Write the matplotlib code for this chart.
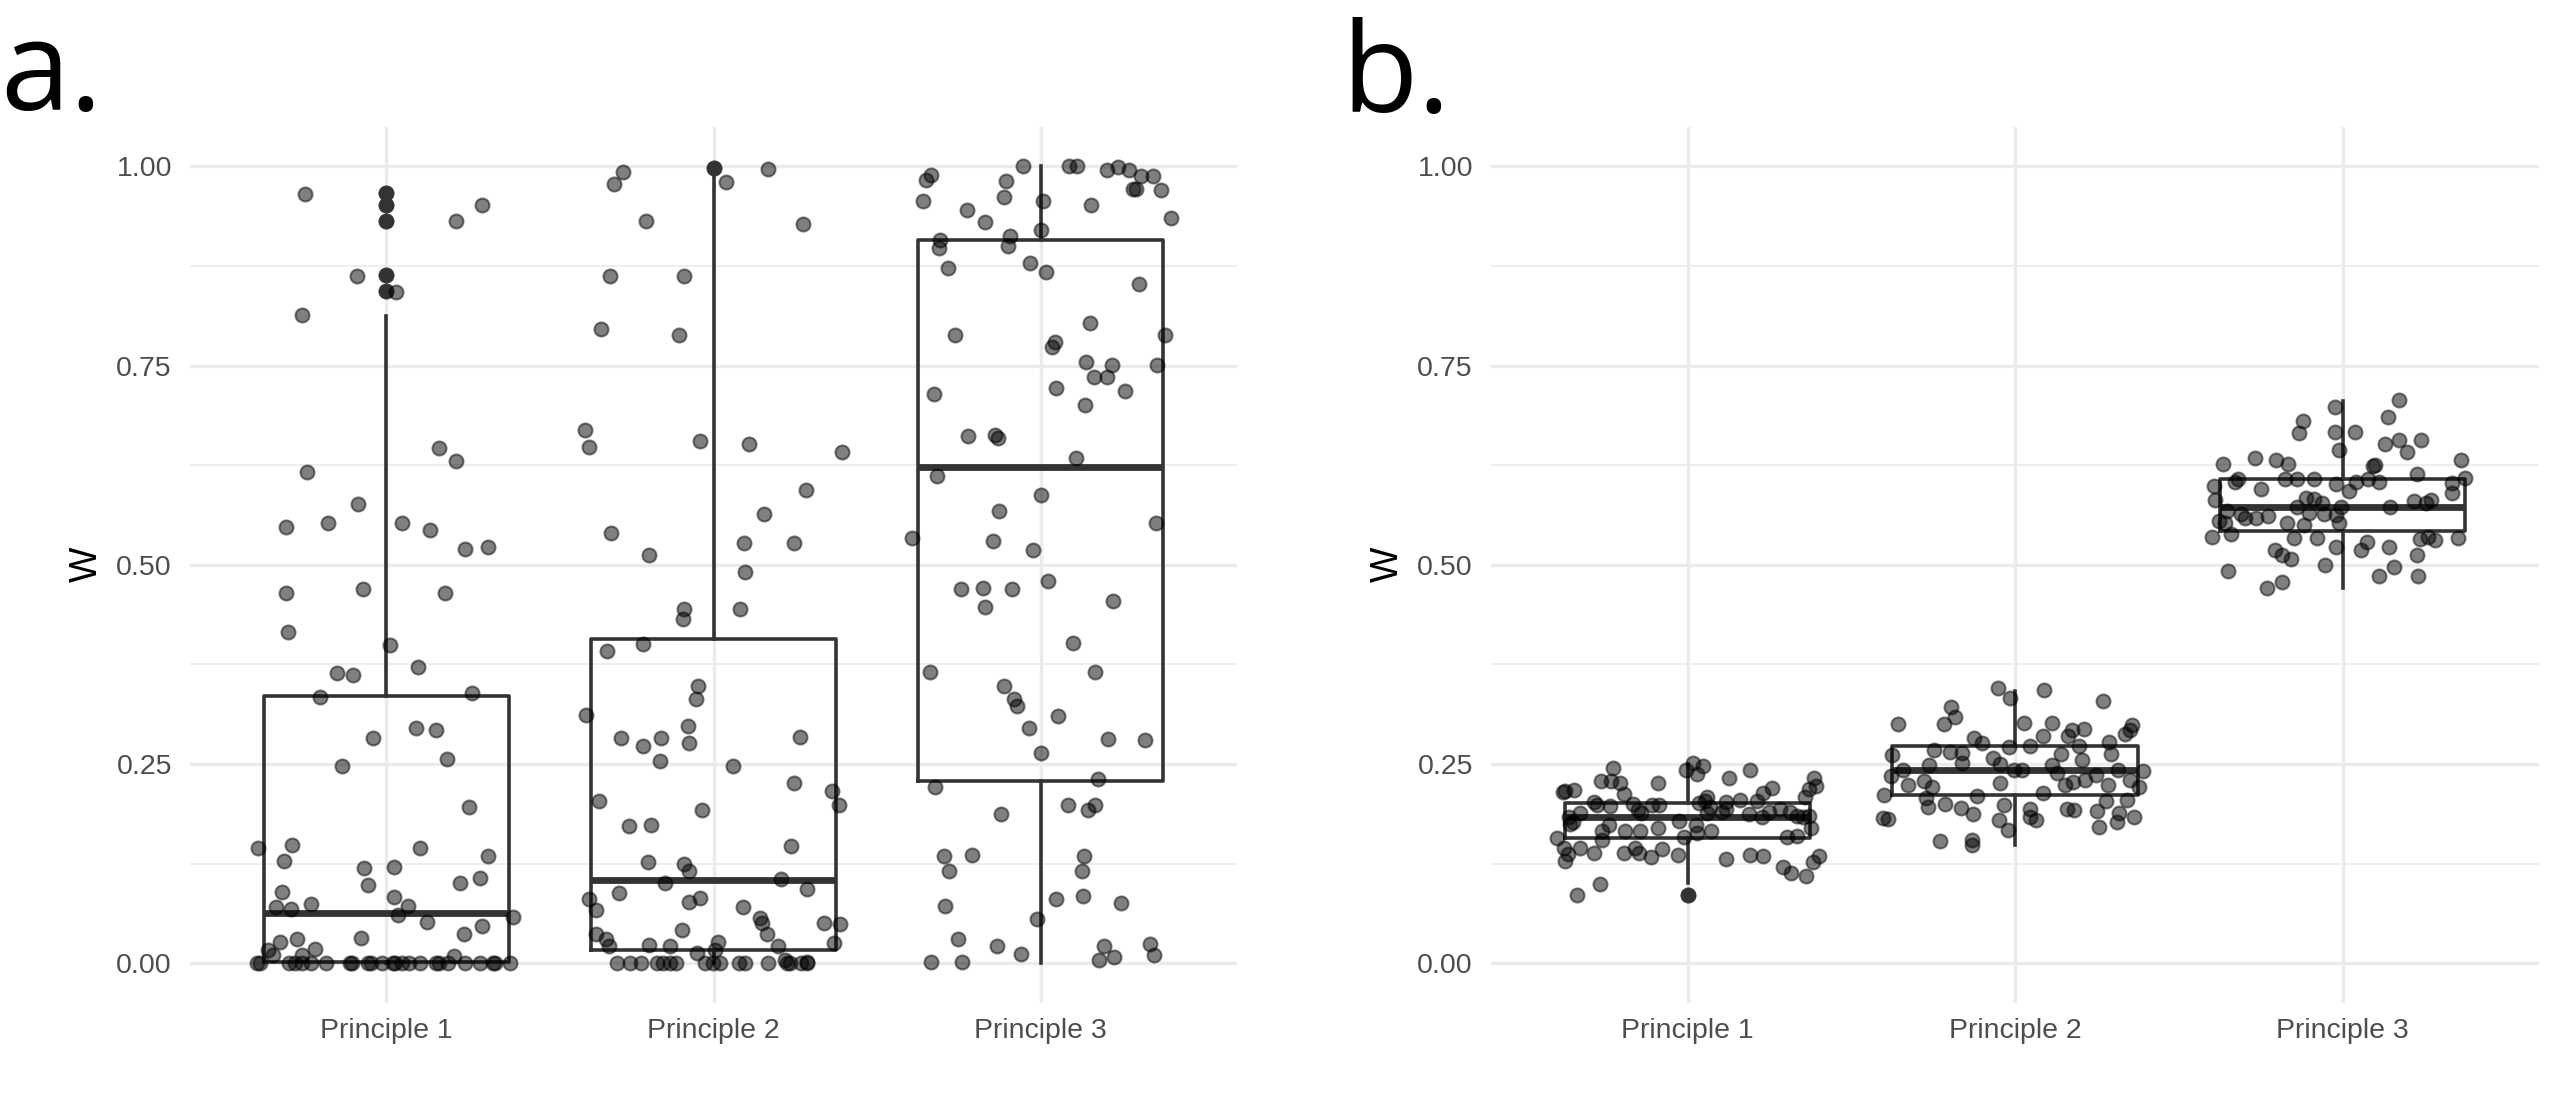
import matplotlib
matplotlib.use("Agg")
import matplotlib.pyplot as plt

plt.rcParams['font.family'] = ['Liberation Sans', 'DejaVu Sans']

categories = ["Principle 1", "Principle 2", "Principle 3"]
yticks = [0.0, 0.25, 0.5, 0.75, 1.0]
ytick_labels = ["0.00", "0.25", "0.50", "0.75", "1.00"]
panel_labels = ["a.", "b."]
y_label = "W"

# ---- Panel a: box statistics ----
a_q1 = [0.001, 0.016, 0.228]
a_med = [0.063, 0.104, 0.623]
a_q3 = [0.335, 0.407, 0.908]
a_whislo = [0.0, 0.0, 0.0]
a_whishi = [0.812, 0.993, 1.0]
a_fliers = [[0.966, 0.951, 0.932, 0.864, 0.843], [0.998], []]

# ---- Panel b: box statistics ----
b_q1 = [0.157, 0.211, 0.542]
b_med = [0.184, 0.242, 0.572]
b_q3 = [0.201, 0.273, 0.608]
b_whislo = [0.100, 0.148, 0.471]
b_whishi = [0.250, 0.342, 0.706]
b_fliers = [[0.085], [], []]

# ---- Panel a: jittered observations (offset, value) ----
a_p1_dx = [-0.249, 0.292, 0.212, -0.090, 0.030, -0.257, -0.242, -0.087, -0.307, -0.177,
           0.047, 0.132, 0.162, 0.214, 0.242, 0.312, -0.307, -0.070, 0.180, -0.299,
           0.010, -0.150, -0.102, 0.097, -0.202, 0.262, -0.040, 0.092, 0.152, -0.135,
           0.185, 0.252, -0.392, -0.287, -0.312, 0.102, 0.312, -0.067, 0.022, -0.055,
           0.224, 0.287, -0.319, 0.022, 0.067, -0.337, -0.292, -0.229, 0.035, 0.125,
           0.387, 0.237, -0.077, -0.324, -0.274, -0.362, -0.217, -0.257, -0.345, 0.207,
           0.291,
           -0.394, -0.386, -0.297, -0.280, -0.258, -0.230, -0.184, -0.110, -0.104, -0.055,
           -0.048, -0.012, 0.021, 0.026, 0.048, 0.070, 0.103, 0.152, 0.161, 0.190,
           0.239, 0.286, 0.327, 0.332, 0.379]
a_p1_y = [0.965, 0.952, 0.932, 0.863, 0.842, 0.813, 0.616, 0.576, 0.548, 0.552,
          0.553, 0.543, 0.647, 0.630, 0.520, 0.522, 0.464, 0.469, 0.465, 0.416,
          0.399, 0.364, 0.362, 0.372, 0.334, 0.339, 0.283, 0.295, 0.292, 0.248,
          0.256, 0.196, 0.145, 0.148, 0.128, 0.145, 0.134, 0.120, 0.121, 0.098,
          0.100, 0.107, 0.089, 0.083, 0.072, 0.070, 0.068, 0.074, 0.061, 0.052,
          0.058, 0.036, 0.032, 0.026, 0.030, 0.016, 0.018, 0.010, 0.010, 0.009,
          0.047,
          0.0, 0.0, 0.0, 0.0, 0.0, 0.0, 0.0, 0.0, 0.0, 0.0,
          0.0, 0.0, 0.0, 0.0, 0.0, 0.0, 0.0, 0.0, 0.0, 0.0,
          0.0, 0.0, 0.0, 0.0, 0.0]

a_p2_dx = [-0.277, -0.304, 0.167, 0.037, -0.207, 0.274, -0.317, -0.090, -0.344, -0.105,
           -0.394, -0.382, -0.040, 0.107, 0.394, 0.284, 0.155, -0.314, 0.092, 0.247,
           -0.197, 0.095, -0.090, -0.092, 0.082, -0.324, -0.214, -0.047, -0.055, -0.389,
           -0.077, -0.282, -0.160, -0.075, -0.214, -0.165, 0.264, 0.060, 0.247, 0.362,
           0.384, -0.349, -0.035, -0.259, -0.192, 0.237, -0.200, -0.090, -0.075, -0.147,
           0.207, 0.287, -0.289, -0.379, -0.359, -0.075, -0.040, 0.090, 0.142, 0.147,
           0.337, 0.387, -0.097, -0.359, -0.329, 0.165, 0.367, 0.015, 0.197, -0.319,
           -0.197, -0.132, -0.050, 0.005, 0.219, 0.287,
           -0.294, -0.256, -0.221, -0.172, -0.153, -0.134, -0.115, -0.025, -0.001, 0.020,
           0.078, 0.097, 0.168, 0.225, 0.235, 0.268, 0.286]
a_p2_y = [0.993, 0.978, 0.997, 0.980, 0.932, 0.928, 0.863, 0.863, 0.796, 0.788,
          0.669, 0.648, 0.655, 0.652, 0.642, 0.594, 0.564, 0.540, 0.527, 0.527,
          0.512, 0.491, 0.445, 0.432, 0.444, 0.392, 0.400, 0.348, 0.332, 0.311,
          0.298, 0.283, 0.282, 0.276, 0.272, 0.254, 0.284, 0.247, 0.226, 0.216,
          0.198, 0.204, 0.192, 0.172, 0.173, 0.147, 0.127, 0.124, 0.116, 0.101,
          0.106, 0.093, 0.088, 0.080, 0.067, 0.077, 0.082, 0.071, 0.057, 0.051,
          0.051, 0.049, 0.041, 0.037, 0.030, 0.036, 0.025, 0.026, 0.021, 0.022,
          0.023, 0.021, 0.013, 0.016, 0.004, 0.002,
          0.0, 0.0, 0.0, 0.0, 0.0, 0.0, 0.0, 0.0, 0.0, 0.0,
          0.0, 0.0, 0.0, 0.0, 0.0, 0.0, 0.0]

a_p3_dx = [-0.055, 0.087, 0.112, 0.202, 0.237, 0.269, 0.307, 0.342, 0.282, 0.292,
           0.369, 0.399, -0.334, -0.352, -0.359, -0.107, -0.112, -0.224, -0.170, 0.007,
           0.155, 0.002, -0.312, -0.307, -0.100, -0.095, -0.282, -0.032, 0.017, 0.299,
           -0.262, 0.152, 0.045, 0.035, 0.379, 0.140, 0.217, 0.162, 0.202, 0.354,
           0.047, 0.257, 0.135, -0.327, -0.222, -0.140, -0.130, 0.107, -0.317, 0.000,
           -0.127, -0.394, 0.352, -0.145, -0.025, 0.022, -0.244, -0.175, -0.087, -0.170,
           0.222, 0.100, -0.339, 0.165, -0.112, -0.082, -0.072, 0.052, -0.035, 0.205,
           0.319, 0.000, -0.324, 0.175, -0.122, 0.085, 0.145, 0.167, -0.297, -0.209,
           -0.279, 0.132, 0.127, 0.130, 0.047, -0.292, 0.245, -0.012, -0.254, -0.132,
           0.195, 0.334, 0.347, -0.060, 0.225, 0.177, -0.334, -0.242]
a_p3_y = [1.000, 1.000, 1.000, 0.995, 0.999, 0.996, 0.988, 0.988, 0.971, 0.971,
          0.970, 0.935, 0.989, 0.983, 0.956, 0.982, 0.962, 0.945, 0.930, 0.956,
          0.951, 0.920, 0.898, 0.908, 0.900, 0.913, 0.873, 0.879, 0.868, 0.852,
          0.788, 0.804, 0.780, 0.773, 0.788, 0.754, 0.751, 0.736, 0.736, 0.751,
          0.722, 0.718, 0.700, 0.714, 0.661, 0.663, 0.659, 0.634, 0.612, 0.588,
          0.567, 0.533, 0.553, 0.530, 0.519, 0.479, 0.470, 0.471, 0.470, 0.447,
          0.455, 0.402, 0.366, 0.365, 0.348, 0.331, 0.323, 0.310, 0.295, 0.281,
          0.280, 0.264, 0.221, 0.231, 0.187, 0.198, 0.192, 0.198, 0.134, 0.136,
          0.116, 0.135, 0.116, 0.084, 0.081, 0.072, 0.075, 0.056, 0.030, 0.021,
          0.022, 0.024, 0.010, 0.011, 0.008, 0.004, 0.002, 0.001]

# ---- Panel b: jittered observations (offset, value) ----
b_p1_dx = [-0.227, -0.263, -0.233, -0.205, -0.091, -0.004, 0.018, 0.046, 0.030, 0.126,
           0.191, -0.373, -0.346, -0.381, -0.195, 0.257, 0.230, 0.211, 0.386, 0.392,
           0.371, 0.358, -0.287, -0.167, -0.109, -0.086, -0.236, -0.277, -0.327, -0.150,
           0.059, 0.054, 0.034, 0.118, 0.159, 0.069, 0.061, 0.104, 0.119, 0.187,
           0.226, 0.249, 0.281, 0.312, 0.334, 0.354, 0.371, -0.363, -0.141, -0.026,
           -0.358, -0.350, -0.241, -0.262, -0.191, -0.145, -0.089, 0.026, 0.028, 0.072,
           -0.012, 0.376, 0.303, 0.334, -0.398, -0.262, -0.378, -0.327, -0.364, -0.374,
           -0.287, -0.195, -0.160, -0.149, -0.111, -0.078, -0.030, 0.118, 0.191, 0.230,
           0.401, 0.384, 0.292, 0.317, 0.363, -0.266, -0.337]
b_p1_y = [0.245, 0.228, 0.228, 0.226, 0.226, 0.243, 0.251, 0.247, 0.238, 0.233,
          0.243, 0.216, 0.217, 0.215, 0.212, 0.220, 0.213, 0.204, 0.233, 0.222,
          0.219, 0.208, 0.202, 0.200, 0.199, 0.198, 0.197, 0.198, 0.189, 0.192,
          0.208, 0.204, 0.201, 0.202, 0.205, 0.196, 0.188, 0.190, 0.194, 0.187,
          0.183, 0.190, 0.193, 0.190, 0.185, 0.184, 0.185, 0.184, 0.188, 0.178,
          0.175, 0.177, 0.173, 0.166, 0.166, 0.166, 0.170, 0.173, 0.163, 0.166,
          0.158, 0.170, 0.158, 0.160, 0.157, 0.154, 0.145, 0.144, 0.137, 0.128,
          0.138, 0.138, 0.145, 0.138, 0.133, 0.143, 0.136, 0.131, 0.136, 0.134,
          0.135, 0.127, 0.121, 0.113, 0.110, 0.099, 0.085]

b_p2_dx = [-0.052, 0.089, -0.015, 0.270, -0.194, -0.184, -0.216, -0.357, 0.027, 0.112,
           0.357, 0.352, 0.174, 0.211, 0.087, -0.124, -0.102, 0.161, 0.288, 0.337,
           -0.246, -0.199, -0.161, -0.017, 0.045, 0.194, 0.141, 0.293, -0.375, -0.067,
           -0.263, -0.161, -0.047, -0.380, -0.343, -0.002, 0.020, 0.112, 0.206, 0.313,
           0.392, 0.248, 0.213, 0.127, -0.278, -0.328, -0.253, -0.045, 0.084, 0.176,
           0.154, 0.283, 0.350, 0.380, -0.400, -0.273, -0.117, 0.342, 0.278, -0.213,
           -0.266, -0.164, -0.035, 0.159, 0.179, 0.251, 0.318, -0.127, 0.045, -0.402,
           -0.387, -0.050, 0.047, 0.065, 0.362, 0.310, 0.258, -0.228, -0.132, -0.132,
           -0.022]
b_p2_y = [0.345, 0.343, 0.333, 0.329, 0.321, 0.309, 0.300, 0.300, 0.302, 0.301,
          0.299, 0.293, 0.292, 0.294, 0.285, 0.283, 0.276, 0.285, 0.278, 0.287,
          0.267, 0.265, 0.264, 0.271, 0.273, 0.273, 0.262, 0.262, 0.261, 0.258,
          0.249, 0.251, 0.250, 0.235, 0.242, 0.242, 0.242, 0.249, 0.255, 0.243,
          0.241, 0.236, 0.230, 0.239, 0.228, 0.223, 0.221, 0.226, 0.213, 0.227,
          0.223, 0.223, 0.230, 0.221, 0.211, 0.207, 0.210, 0.205, 0.204, 0.200,
          0.196, 0.195, 0.198, 0.194, 0.192, 0.191, 0.189, 0.187, 0.193, 0.182,
          0.181, 0.180, 0.184, 0.180, 0.184, 0.177, 0.171, 0.153, 0.154, 0.148,
          0.167]

b_p3_dx = [0.174, -0.022, 0.139, -0.122, -0.134, -0.022, 0.037, 0.171, 0.241, 0.131,
           0.196, -0.012, -0.266, -0.365, -0.203, -0.166, 0.362, 0.099, 0.092, -0.320,
           -0.328, -0.392, -0.248, -0.176, -0.139, -0.087, -0.020, 0.042, 0.079, 0.112,
           0.228, 0.335, 0.375, 0.020, -0.390, -0.112, -0.087, -0.062, 0.218, 0.256,
           0.270, -0.139, -0.005, 0.144, -0.352, -0.298, -0.263, -0.226, -0.169, -0.310,
           -0.102, -0.055, -0.020, -0.377, -0.360, -0.119, -0.012, -0.397, -0.340, -0.149,
           -0.079, 0.236, 0.283, 0.352, 0.261, -0.020, 0.057, 0.141, -0.206, -0.186,
           -0.156, 0.228, -0.350, -0.052, 0.156, 0.112, 0.231, -0.184, -0.231, 0.074,
           0.335]
b_p3_y = [0.707, 0.698, 0.685, 0.681, 0.665, 0.666, 0.666, 0.656, 0.656, 0.651,
          0.641, 0.644, 0.634, 0.627, 0.632, 0.627, 0.631, 0.625, 0.624, 0.608,
          0.604, 0.599, 0.595, 0.607, 0.608, 0.608, 0.601, 0.604, 0.608, 0.604,
          0.614, 0.602, 0.609, 0.593, 0.581, 0.584, 0.583, 0.577, 0.580, 0.577,
          0.581, 0.572, 0.572, 0.572, 0.568, 0.559, 0.559, 0.561, 0.553, 0.564,
          0.565, 0.564, 0.562, 0.555, 0.553, 0.550, 0.553, 0.535, 0.539, 0.533,
          0.534, 0.532, 0.531, 0.534, 0.535, 0.522, 0.518, 0.522, 0.518, 0.512,
          0.507, 0.512, 0.492, 0.500, 0.497, 0.486, 0.486, 0.478, 0.471, 0.528,
          0.590]

BOX_COL = "#333333"
GRID_COL = "#EBEBEB"
TICK_COL = "#4D4D4D"

fig = plt.figure(figsize=(25.58, 11.07), dpi=100)
W, H = 2558.0, 1107.0
ax_a = fig.add_axes([190 / W, (H - 1003) / H, 1047 / W, (1003 - 126.5) / H])
ax_b = fig.add_axes([1491 / W, (H - 1003) / H, 1048 / W, (1003 - 126.5) / H])

panels = [
    (ax_a, (a_q1, a_med, a_q3, a_whislo, a_whishi, a_fliers),
     [(a_p1_dx, a_p1_y), (a_p2_dx, a_p2_y), (a_p3_dx, a_p3_y)]),
    (ax_b, (b_q1, b_med, b_q3, b_whislo, b_whishi, b_fliers),
     [(b_p1_dx, b_p1_y), (b_p2_dx, b_p2_y), (b_p3_dx, b_p3_y)]),
]

positions = [1, 2, 3]
for ax, (q1, med, q3, wlo, whi, fl), pts in panels:
    ax.set_xlim(0.4, 3.6)
    ax.set_ylim(-0.05, 1.05)
    for s in ax.spines.values():
        s.set_visible(False)
    # grid
    for yv in yticks:
        ax.axhline(yv, color=GRID_COL, lw=2.4, zorder=0)
    for yv in [0.125, 0.375, 0.625, 0.875]:
        ax.axhline(yv, color=GRID_COL, lw=1.2, zorder=0)
    for xv in positions:
        ax.axvline(xv, color=GRID_COL, lw=2.4, zorder=0)

    stats = []
    for i in range(3):
        stats.append(dict(q1=q1[i], med=med[i], q3=q3[i], whislo=wlo[i],
                          whishi=whi[i], fliers=fl[i], label=categories[i]))
    ax.bxp(stats, positions=positions, widths=0.75, showcaps=False,
           patch_artist=False,
           boxprops=dict(color=BOX_COL, linewidth=2.6),
           whiskerprops=dict(color=BOX_COL, linewidth=2.6),
           medianprops=dict(color=BOX_COL, linewidth=4.9, solid_capstyle='butt'),
           flierprops=dict(marker='o', markerfacecolor=BOX_COL, markeredgecolor=BOX_COL,
                           markersize=11.0, markeredgewidth=0.5, linestyle='none'),
           zorder=2)

    for pos, (dx, yv) in zip(positions, pts):
        xs = [pos + d for d in dx]
        ax.scatter(xs, yv, s=10.1 ** 2, facecolor=(0, 0, 0, 0.5),
                   edgecolor=(0, 0, 0, 0.5), linewidths=1.45, zorder=3)

    ax.set_xticks(positions)
    ax.set_xticklabels(categories)
    ax.set_yticks(yticks)
    ax.set_yticklabels(ytick_labels)
    ax.tick_params(axis='both', length=0, labelsize=20.5, labelcolor=TICK_COL)
    ax.tick_params(axis='x', pad=10.8)
    ax.tick_params(axis='y', pad=13.0)
    ax.set_ylabel(y_label, fontsize=27, color='black')
    ax.yaxis.label.set_va('center')
    ax.yaxis.set_label_coords(-103.0 / 1047.0, 0.5)
    ax.set_facecolor('white')

fig.text(0 / W, (H - 110) / H, panel_labels[0], fontsize=90,
         family=['Open Sans', 'DejaVu Sans'], va='baseline', ha='left')
fig.text(1341 / W, (H - 112) / H, panel_labels[1], fontsize=90,
         family=['Open Sans', 'DejaVu Sans'], va='baseline', ha='left')

fig.savefig("out.png", dpi=100, facecolor='white')
